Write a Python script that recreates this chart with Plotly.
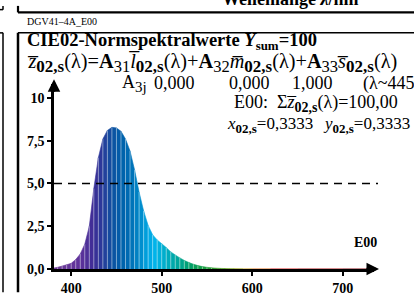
import plotly.graph_objects as go

# ---- data -------------------------------------------------------------
wavelengths = [380, 385, 390, 395, 400, 405, 410, 415, 420, 425, 430, 435, 440,
               445, 450, 455, 460, 465, 470, 475, 480, 485, 490, 495, 500, 505,
               510, 515, 520, 525, 530, 535, 540, 545, 550, 555, 560, 565, 570,
               575, 580, 590, 600, 620, 650, 700, 730]
zbar_values = [0.05, 0.10, 0.17, 0.25, 0.33, 0.55, 0.88, 1.45, 2.50, 4.70, 6.50,
               7.60, 8.10, 8.28, 8.25, 8.05, 7.60, 6.90, 5.80, 4.50, 3.40, 2.55,
               2.00, 1.70, 1.48, 1.25, 1.00, 0.82, 0.65, 0.50, 0.38, 0.28, 0.20,
               0.14, 0.10, 0.07, 0.05, 0.035, 0.025, 0.017, 0.012, 0.006, 0.003,
               0.001, 0.0, 0.0, 0.0]
x_tick_vals = [400, 500, 600, 700]
y_tick_vals = [0, 2.5, 5.0, 7.5, 10]
y_tick_text = ["0,0", "2,5", "5,0", "7,5", "10"]
reference_level = 5.0
a3j_values = ["0,000", "0,000", "1,000"]

# ---- style helpers ----------------------------------------------------
W, H = 414, 308
L, R, T, B = 54, 374, 84, 283
FONT = "Liberation Serif"

def px(p):
    return (p - L) / (R - L)

def py(p):
    return (B - p) / (B - T)

anchors = [(380, (110, 60, 150)), (410, (95, 50, 155)), (425, (60, 45, 150)),
           (435, (40, 60, 155)), (445, (15, 80, 160)), (455, (0, 95, 170)),
           (465, (0, 110, 180)), (475, (0, 135, 200)), (485, (0, 165, 225)),
           (492, (0, 180, 235)), (500, (0, 175, 215)), (510, (0, 170, 180)),
           (520, (0, 165, 150)), (530, (0, 160, 110)), (545, (20, 160, 70)),
           (560, (60, 160, 50)), (580, (140, 170, 40)), (600, (220, 150, 30)),
           (630, (220, 40, 40)), (700, (150, 20, 30)), (740, (120, 20, 30))]

def spec_color(w):
    for (w0, c0), (w1, c1) in zip(anchors[:-1], anchors[1:]):
        if w0 <= w <= w1:
            t = (w - w0) / (w1 - w0)
            c = [round(a + (b - a) * t) for a, b in zip(c0, c1)]
            return f"rgb({c[0]},{c[1]},{c[2]})"
    return "rgb(120,20,30)"

fig = go.Figure()

# coloured strips between consecutive samples
for i in range(len(wavelengths) - 1):
    w0, w1 = wavelengths[i], wavelengths[i + 1]
    v0, v1 = zbar_values[i], zbar_values[i + 1]
    col = spec_color((w0 + w1) / 2)
    fig.add_trace(go.Scatter(x=[w0, w0, w1, w1, w0], y=[0, v0, v1, 0, 0],
                             mode="lines", fill="toself", fillcolor=col,
                             line=dict(width=0.6, color=col), hoverinfo="skip",
                             showlegend=False))

# white separators
sx, sy = [], []
for w, v in zip(wavelengths, zbar_values):
    if 380 < w < 560:
        sx += [w, w, None]
        sy += [0, v, None]
fig.add_trace(go.Scatter(x=sx, y=sy, mode="lines",
                         line=dict(color="rgba(255,255,255,0.45)", width=1),
                         hoverinfo="skip", showlegend=False))

# dashed reference line
fig.add_shape(type="line", xref="paper", yref="y", x0=0, x1=px(378),
              y0=reference_level, y1=reference_level,
              line=dict(color="black", width=1.5, dash="8px,6px"))

# frame lines (page layout)
frame = [
    (18, 7, 414, 7, 2.2), (18, 0, 18, 7, 2.2), (0, 4, 3, 4, 1.5), (3, 0, 3, 4, 1.5),
    (18, 29, 414, 29, 1.5), (18, 29, 18, 308, 2.5), (0, 29, 3, 29, 1.5),
    (3, 29, 3, 308, 1.5),
]
for x0, y0, x1, y1, wd in frame:
    fig.add_shape(type="line", xref="paper", yref="paper",
                  x0=px(x0), x1=px(x1), y0=py(y0), y1=py(y1),
                  line=dict(color="black", width=wd))

ann = []

def text(x, y, s, size=18, anchor="left"):
    ann.append(dict(xref="paper", yref="paper", x=px(x), y=py(y), text=s,
                    showarrow=False, xanchor=anchor, yanchor="middle",
                    borderpad=0,
                    font=dict(family=FONT, size=size, color="black")))

def sb(s, size=14, bold=True):
    inner = f"<b>{s}</b>" if bold else s
    return f'<sub><span style="font-size:{size}px">{inner}</span></sub>'

ann.append(dict(xref="paper", yref="paper", x=px(290), y=py(6),
                text="<b>Wellenlänge <i>λ</i>/nm</b>", showarrow=False,
                xanchor="center", yanchor="bottom",
                font=dict(family=FONT, size=18, color="black")))
text(26, 17, "DGV41–4A_E00", size=10)
text(26, 38, "<b>CIE02-Normspektralwerte <i>Y</i><sub>sum</sub>=100</b>", size=18.5)
s02f = sb("02,s", 17)
text(26, 61, f"<i>z\u0305</i>{s02f}(λ)=<b>A</b>{sb('31', 16.5, False)}<i>l\u0305</i>{s02f}(λ)+"
             f"<b>A</b>{sb('32', 16.5, False)}<i>m\u0305</i>{s02f}(λ)+"
             f"<b>A</b>{sb('33', 16.5, False)}<i>s\u0305</i>{s02f}(λ)",
     size=20.3)
s02 = sb("02,s")
text(121, 83, f"A{sb('3j', 15, False)}", size=18)
for xpos, val in zip([153, 228, 291], a3j_values):
    text(xpos, 83, val, size=18)
text(362, 83, "(λ~445", size=18)
text(399, 105, f"E00:  Σ<i>z\u0305</i>{s02}(λ)=100,00", size=18, anchor="right")
text(226, 128, f"<i>x</i>{sb('02,s', 13)}=0,3333", size=17)
text(411, 128, f"<i>y</i>{sb('02,s', 13)}=0,3333", size=17, anchor="right")
ann.append(dict(xref="paper", yref="paper", x=px(379), y=py(255), text="<b>E00</b>",
                showarrow=False, xanchor="right", yanchor="middle",
                font=dict(family=FONT, size=14, color="black")))

# axis arrows
ann.append(dict(xref="paper", yref="paper", x=px(379), y=0, ax=-14, ay=0,
                showarrow=True, arrowhead=2, arrowsize=1, arrowwidth=2.5,
                arrowcolor="black", text=""))
ann.append(dict(xref="paper", yref="paper", x=0, y=py(79), ax=0, ay=14,
                showarrow=True, arrowhead=2, arrowsize=1, arrowwidth=2.5,
                arrowcolor="black", text=""))

fig.update_layout(
    width=W, height=H, margin=dict(l=L, r=W - R, t=T, b=H - B, pad=0),
    paper_bgcolor="white", plot_bgcolor="white", showlegend=False,
    annotations=ann,
    xaxis=dict(range=[381, 381 + (R - L) / 0.905], showgrid=False, zeroline=False,
               showline=True, linecolor="black", linewidth=2.5,
               ticks="outside", ticklen=4, tickwidth=2, tickcolor="black",
               tickvals=x_tick_vals,
               tickfont=dict(family=FONT, size=14, color="black", weight="bold")),
    yaxis=dict(range=[0, (B - T) / 18.4], showgrid=False, zeroline=False,
               showline=True, linecolor="black", linewidth=2.5,
               ticks="outside", ticklen=4, tickwidth=2, tickcolor="black",
               tickvals=y_tick_vals, ticktext=y_tick_text,
               tickfont=dict(family=FONT, size=14, color="black", weight="bold")),
)

fig.write_html("out.html", config={"displayModeBar": False},
               post_script="document.body.style.margin='0';"
                           "document.body.style.overflow='hidden';")
